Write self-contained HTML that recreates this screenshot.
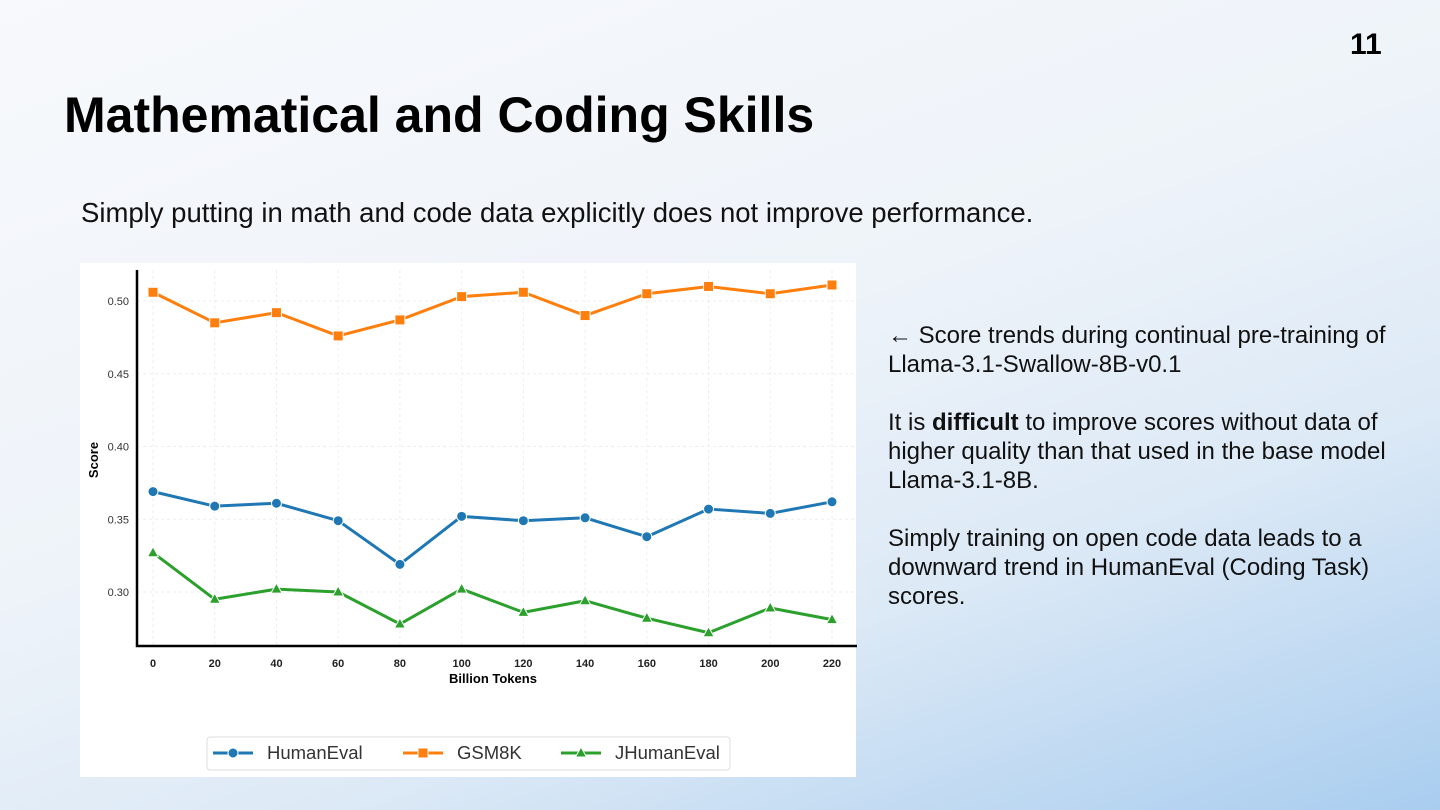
<!DOCTYPE html>
<html><head><meta charset="utf-8"><style>
body{margin:0;width:1440px;height:810px;overflow:hidden;font-family:"Liberation Sans",sans-serif;position:relative;
background:linear-gradient(160deg,#f7f9fc 0%,#eef3f9 45%,#dce9f6 70%,#a9cdef 100%);}
.abs{position:absolute}
</style></head><body>
<div class="abs" style="left:1350px;top:28px;font-size:30px;font-weight:bold">11</div>
<div class="abs" style="left:64px;top:86px;font-size:50px;font-weight:bold;color:#000">Mathematical and Coding Skills</div>
<div class="abs" style="left:81px;top:197px;font-size:27.5px;color:#111">Simply putting in math and code data explicitly does not improve performance.</div>
<div class="abs" style="left:888px;top:321px;font-size:24px;line-height:29px;color:#111;width:505px">
<div>← Score trends during continual pre-training of Llama-3.1-Swallow-8B-v0.1</div><br>
<div>It is <b>difficult</b> to improve scores without data of higher quality than that used in the base model Llama-3.1-8B.</div><br>
<div>Simply training on open code data leads to a downward trend in HumanEval (Coding Task) scores.</div>
</div>
<div class="abs" style="left:80px;top:263px;width:776px;height:514px;background:#fff"></div>
<svg class="abs" style="left:0;top:0" width="1440" height="810" id="chart"></svg>
<script>
const xs=[0,20,40,60,80,100,120,140,160,180,200,220];
const yTicks=[0.30,0.35,0.40,0.45,0.50];
const humanEval=[0.369,0.359,0.361,0.349,0.319,0.352,0.349,0.351,0.338,0.357,0.354,0.362];
const gsm8k=[0.506,0.485,0.492,0.476,0.487,0.503,0.506,0.490,0.505,0.510,0.505,0.511];
const jHumanEval=[0.327,0.295,0.302,0.300,0.278,0.302,0.286,0.294,0.282,0.272,0.289,0.281];
const svg=document.getElementById('chart');const NS='http://www.w3.org/2000/svg';
function X(v){return 153+(v-0)*(832-153)/220;}
function Y(v){return 592-(v-0.30)*(592-301)/0.20;}
function mk(t,a,p){const e=document.createElementNS(NS,t);for(const k in a)e.setAttribute(k,a[k]);(p||svg).appendChild(e);return e;}
xs.forEach(v=>{const g=mk('line',{x1:X(v),x2:X(v),y1:270,y2:646,stroke:'#eee','stroke-dasharray':'3,3'});


const t=mk('text',{x:X(v),y:667,'text-anchor':'middle','font-size':11,'font-weight':'bold',fill:'#222'});t.textContent=v;

});
yTicks.forEach(v=>{const g=mk('line',{x1:137,x2:857,y1:Y(v),y2:Y(v),stroke:'#eee','stroke-dasharray':'3,3'});


const t=mk('text',{x:129,y:Y(v)+4,'text-anchor':'end','font-size':11,fill:'#333'});t.textContent=v.toFixed(2);

});
const ax=mk('path',{d:'M137,270 V646 H857',fill:'none',stroke:'#000','stroke-width':2.5});


const xt=mk('text',{x:493,y:683,'text-anchor':'middle','font-size':13,'font-weight':'bold'});xt.textContent='Billion Tokens';


const yt=mk('text',{x:98,y:460,'text-anchor':'middle','font-size':13,'font-weight':'bold',transform:'rotate(-90 98 460)'});yt.textContent='Score';


function marker(shape,x,y,c,name){let e;
if(shape==='o')e=mk('circle',{cx:x,cy:y,r:5,fill:c,stroke:'#fff','stroke-width':1});
else if(shape==='s')e=mk('rect',{x:x-5,y:y-5,width:10,height:10,fill:c,stroke:'#fff','stroke-width':1});
else e=mk('path',{d:`M${x},${y-6} L${x+5.5},${y+4} L${x-5.5},${y+4}Z`,fill:c,stroke:'#fff','stroke-width':1});

}
[[humanEval,'#1f77b4','o','humaneval'],[gsm8k,'#ff7f0e','s','gsm8k'],[jHumanEval,'#2ca02c','^','jhumaneval']].forEach(([d,c,s,n])=>{
const l=mk('polyline',{points:d.map((v,i)=>X(xs[i])+','+Y(v)).join(' '),fill:'none',stroke:c,'stroke-width':3,'stroke-linejoin':'round'});


d.forEach((v,i)=>marker(s,X(xs[i]),Y(v),c,n+'-point'));});
const lb=mk('rect',{x:207,y:737,width:523,height:33,rx:3,fill:'#fff',stroke:'#ddd'});


[['HumanEval','#1f77b4','o',213],['GSM8K','#ff7f0e','s',403],['JHumanEval','#2ca02c','^',561]].forEach(([t,c,s,x])=>{
const l=mk('line',{x1:x,x2:x+40,y1:753,y2:753,stroke:c,'stroke-width':3});


marker(s,x+20,753,c,'legend-marker');
const tx=mk('text',{x:x+54,y:759,'font-size':18.5,fill:'#333'});tx.textContent=t;

});
</script>
</body></html>
